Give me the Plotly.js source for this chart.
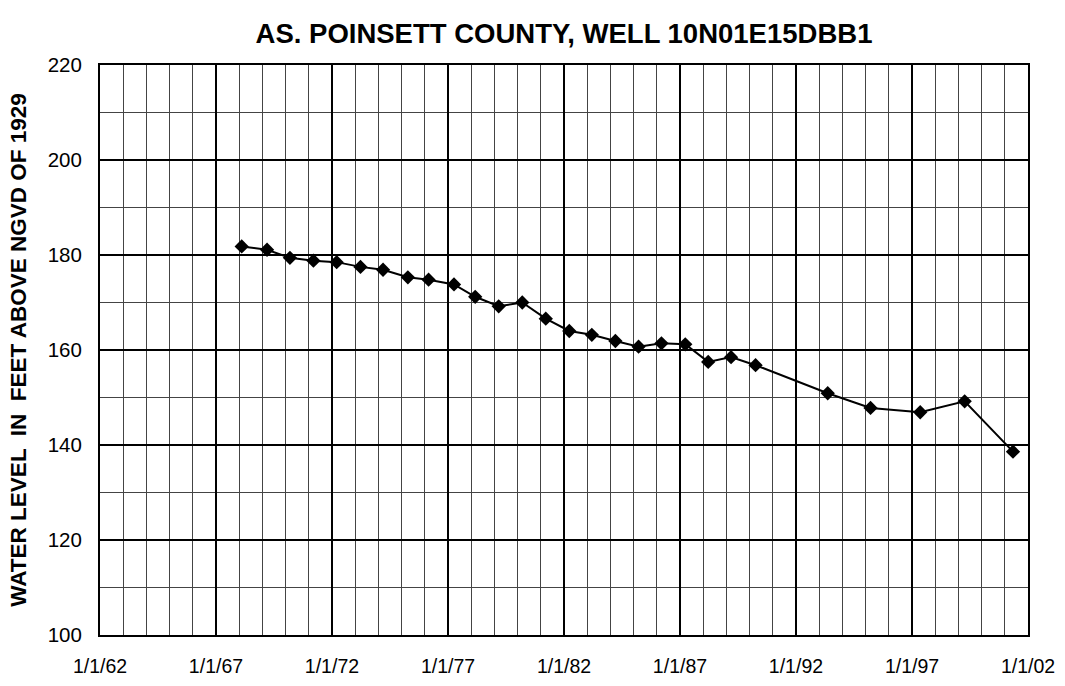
<!DOCTYPE html>
<html>
<head>
<meta charset="utf-8">
<script src="https://cdn.plot.ly/plotly-3.0.1.min.js"></script>
<style>html,body{margin:0;padding:0;background:#fff;}#chart{width:1065px;height:686px;}</style>
</head>
<body>
<div id="chart"></div>
<script>
var dates = ["1968-02-10","1969-03-15","1970-03-10","1971-03-15","1972-03-15","1973-03-25","1974-03-15","1975-04-10","1976-03-01","1977-04-05","1978-03-05","1979-03-10","1980-03-15","1981-03-20","1982-03-25","1983-03-15","1984-03-20","1985-03-20","1986-03-15","1987-03-25","1988-03-20","1989-03-15","1990-04-05","1993-05-15","1995-03-20","1997-05-10","1999-04-10","2001-05-10"];
var levels = [181.8,181.1,179.4,178.8,178.5,177.5,176.9,175.3,174.8,173.8,171.2,169.2,170.0,166.6,164.0,163.2,161.9,160.7,161.4,161.2,157.5,158.5,156.8,150.9,147.8,146.9,149.2,138.6];
var xTickVals = ["1962-01-01","1967-01-01","1972-01-01","1977-01-01","1982-01-01","1987-01-01","1992-01-01","1997-01-01","2002-01-01"];
var xTickText = ["1/1/62","1/1/67","1/1/72","1/1/77","1/1/82","1/1/87","1/1/92","1/1/97","1/1/02"];
var yTickVals = [100,120,140,160,180,200,220];

var trace = {
  x: dates, y: levels, type: 'scatter', mode: 'lines+markers',
  line: {color: '#000', width: 2},
  marker: {symbol: 'diamond', size: 11, color: '#000'},
  showlegend: false, hoverinfo: 'x+y'
};
var fam = 'Liberation Sans, Arial, sans-serif';
var layout = {
  width: 1065, height: 686,
  margin: {l: 100, r: 37, t: 65, b: 51},
  paper_bgcolor: '#fff', plot_bgcolor: '#fff',
  font: {family: fam, color: '#000'},
  title: {text: '<b>AS. POINSETT COUNTY, WELL 10N01E15DBB1</b>', x: 0.5, xref: 'paper', y: 0.952, yanchor: 'middle', font: {family: fam, size: 27.5, color: '#000'}},
  xaxis: {
    type: 'date', range: ['1962-01-01','2002-01-01'],
    tickmode: 'array', tickvals: xTickVals, ticktext: xTickText,
    tickfont: {size: 19.5, family: fam, color: '#000'},
    ticks: 'outside', ticklen: 13, tickcolor: 'rgba(0,0,0,0)',
    showgrid: true, gridcolor: '#000', gridwidth: 2,
    minor: {dtick: 'M12', tick0: '1962-01-01', showgrid: true, gridcolor: '#444', gridwidth: 1},
    showline: true, linecolor: '#000', linewidth: 2, mirror: true, zeroline: false
  },
  yaxis: {
    range: [100, 220], tickmode: 'array', tickvals: yTickVals,
    tickfont: {size: 20.5, family: fam, color: '#000'},
    ticks: 'outside', ticklen: 12, tickcolor: 'rgba(0,0,0,0)',
    showgrid: true, gridcolor: '#000', gridwidth: 2,
    minor: {dtick: 10, tick0: 100, showgrid: true, gridcolor: '#444', gridwidth: 1},
    showline: true, linecolor: '#000', linewidth: 2, mirror: true, zeroline: false,
    title: {text: '<b>WATER LEVEL  IN  FEET ABOVE NGVD OF 1929</b>', font: {size: 22.5, family: fam, color: '#000'}, standoff: 15}
  }
};
Plotly.newPlot('chart', [trace], layout, {displayModeBar: false, staticPlot: true});
</script>
</body>
</html>
